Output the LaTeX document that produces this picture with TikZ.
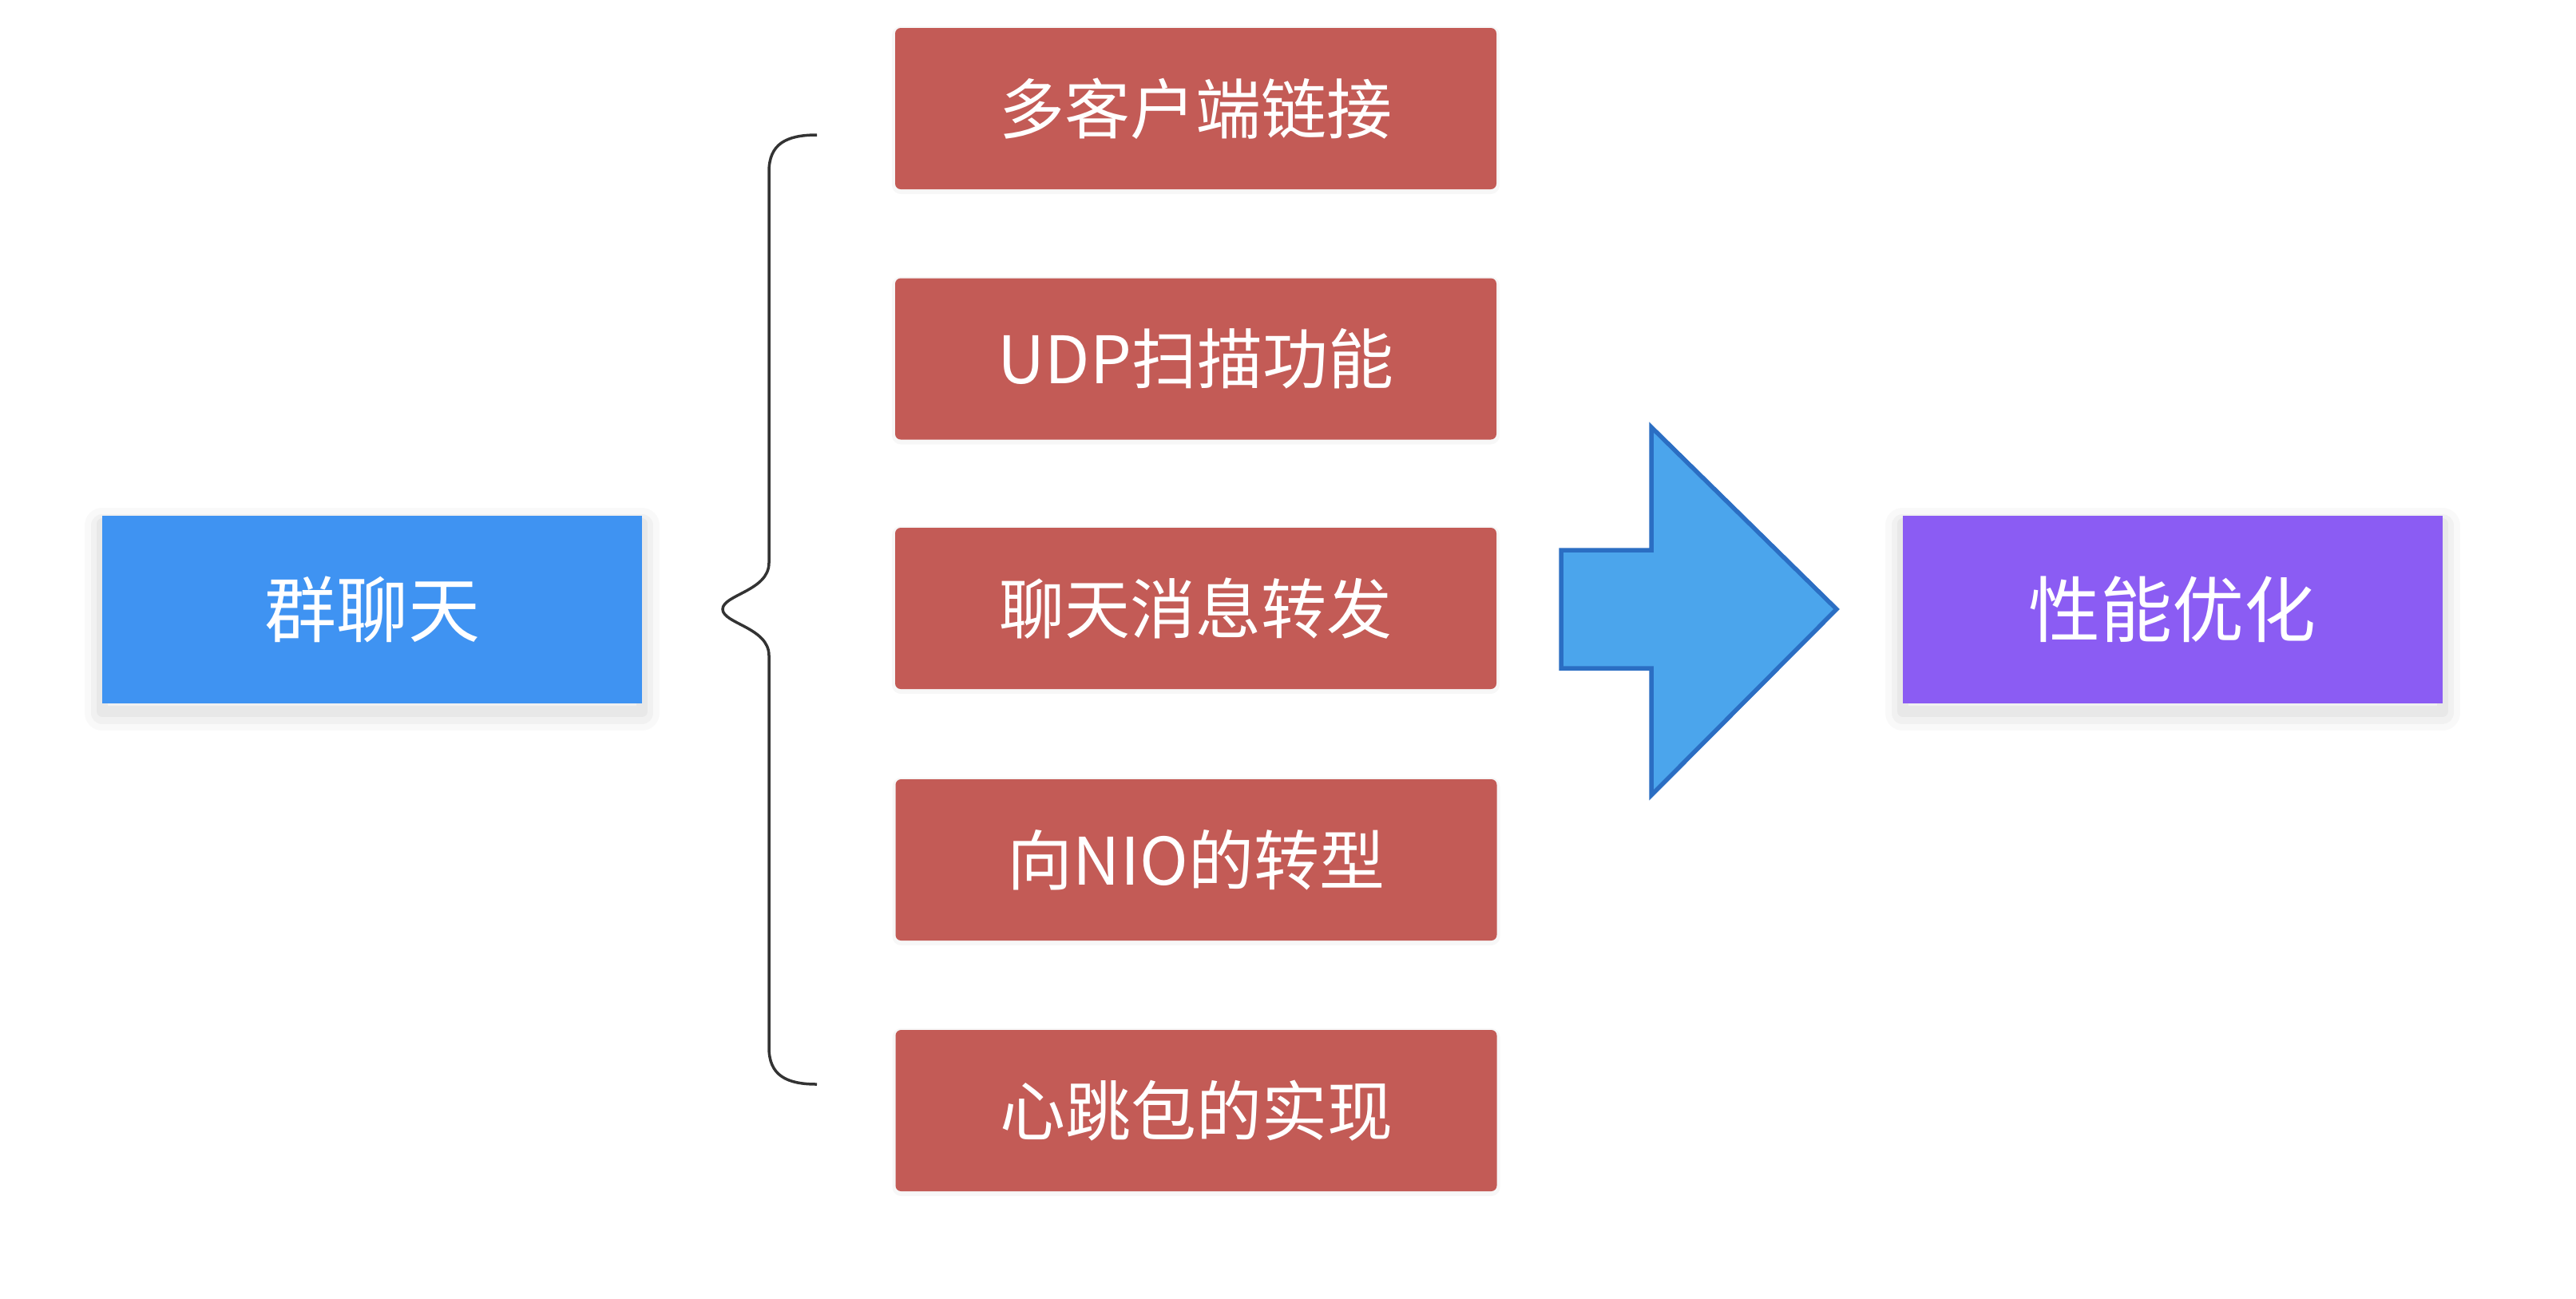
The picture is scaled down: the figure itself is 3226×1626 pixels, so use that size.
\documentclass[tikz,border=0pt]{standalone}
\usepackage{fontspec}
\newfontfamily\cjk{Noto Sans CJK SC}
\definecolor{bluefill}{HTML}{3F93F2}
\definecolor{redfill}{HTML}{C35B56}
\definecolor{purplefill}{HTML}{8B5CF3}
\definecolor{arrowfill}{HTML}{4BA5EC}
\definecolor{arrowdraw}{HTML}{2B6EC3}
\definecolor{bracecol}{HTML}{333333}
\begin{document}
\begin{tikzpicture}[x=1pt,y=-1pt,
  softshadow/.style={
    preaction={draw=black, draw opacity=0.025, line width=44pt, line join=round, transform canvas={yshift=-12pt}},
    preaction={draw=black, draw opacity=0.03, line width=28pt, line join=round, transform canvas={yshift=-12pt}},
    preaction={draw=black, draw opacity=0.035, line width=14pt, line join=round, transform canvas={yshift=-10pt}}},
  lightshadow/.style={
    preaction={draw=black, draw opacity=0.03, line width=8pt, line join=round, transform canvas={yshift=-2pt}}},
  bigbox/.style={minimum width=676pt, minimum height=235pt, inner sep=0pt, text=white,
    font=\cjk\fontsize{90}{100}\selectfont, softshadow},
  redbox/.style={fill=redfill, rounded corners=7pt, minimum width=753pt, minimum height=202pt,
    inner sep=0pt, text=white, font=\cjk\fontsize{82}{92}\selectfont, lightshadow},
  bracestyle/.style={draw=bracecol, line width=3.5pt},
  bigarrow/.style={fill=arrowfill, draw=arrowdraw, line width=5.5pt, line join=miter}]
\useasboundingbox[fill=white] (0,0) rectangle (3226,1626);

\node[bigbox, fill=bluefill] (chat) at (466,763.5) {群聊天};
\node[bigbox, fill=purplefill] (perf) at (2720.5,763.5) {性能优化};

\node[redbox] (r1) at (1497.5,136) {多客户端链接};
\node[redbox] (r2) at (1497.5,449.5) {UDP扫描功能};
\node[redbox] (r3) at (1497.5,762) {聊天消息转发};
\node[redbox] (r4) at (1498,1077) {向NIO的转型};
\node[redbox] (r5) at (1498,1391) {心跳包的实现};

\draw[bracestyle] (1023,169) .. controls (985,169) and (963,180) .. (963,215)
  -- (963,705) .. controls (963,740) and (905,745) .. (905,763)
  .. controls (905,781) and (963,786) .. (963,821)
  -- (963,1312) .. controls (963,1347) and (985,1358) .. (1023,1358);

\draw[bigarrow] (1955,689) -- (2068,689) -- (2068,535) -- (2300,763)
  -- (2068,996) -- (2068,837) -- (1955,837) -- cycle;
\end{tikzpicture}
\end{document}
